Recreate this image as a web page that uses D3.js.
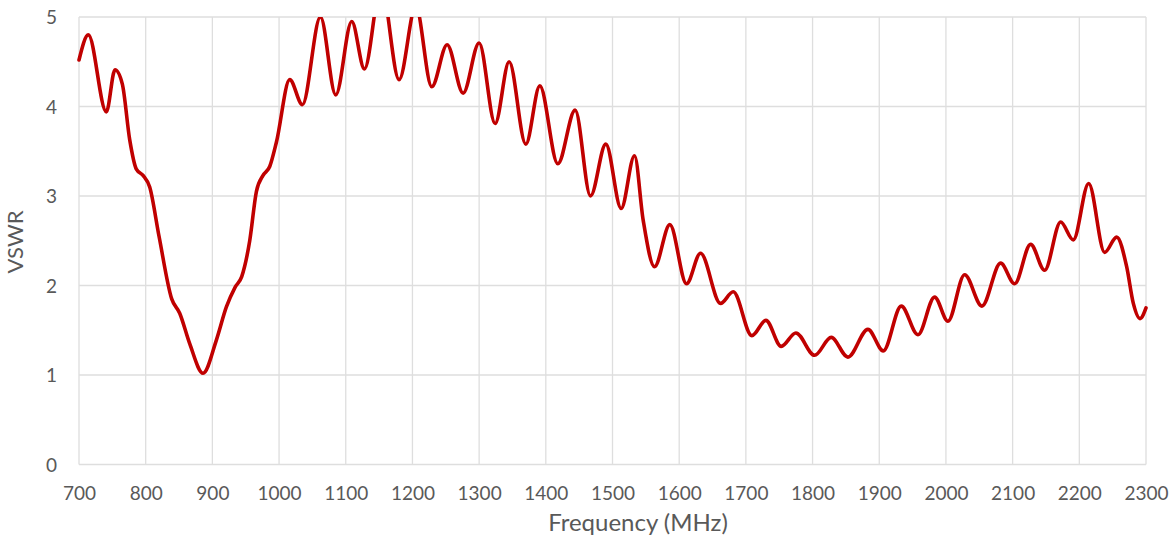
<!DOCTYPE html>
<html>
<head>
<meta charset="utf-8">
<script src="https://cdn.jsdelivr.net/npm/d3@7"></script>
<style>
html,body{margin:0;padding:0;background:#fff;}
svg{display:block;}
</style>
</head>
<body>
<svg id="chart" width="1174" height="540"></svg>
<script>
// Data
const freq = [700,714,741,754,765,776,786,796,806,820,839,851,866,886,906,921,934,944,956,966,976,986,996,1016,1035,1062,1085,1109,1128,1153,1180,1205,1229,1252,1276,1300,1324,1345,1370,1391,1418,1444,1467,1490,1513,1533,1546,1563,1586,1611,1632,1662,1681,1709,1730,1753,1775,1803,1828,1853,1883,1906,1933,1958,1983,2003,2028,2054,2082,2103,2127,2148,2172,2191,2214,2238,2256,2271,2281,2291,2300];
const vswr = [4.52,4.80,3.94,4.41,4.25,3.63,3.30,3.23,3.10,2.55,1.85,1.69,1.35,1.02,1.39,1.76,1.98,2.10,2.50,3.05,3.23,3.33,3.60,4.30,4.02,5.00,4.13,4.95,4.42,5.35,4.30,5.12,4.22,4.69,4.15,4.71,3.81,4.50,3.58,4.23,3.36,3.96,3.00,3.58,2.86,3.45,2.73,2.21,2.68,2.02,2.36,1.80,1.93,1.44,1.61,1.32,1.47,1.22,1.42,1.20,1.51,1.27,1.77,1.45,1.87,1.60,2.12,1.77,2.25,2.02,2.46,2.17,2.71,2.51,3.14,2.37,2.54,2.21,1.80,1.63,1.75];
const xTicks = [700,800,900,1000,1100,1200,1300,1400,1500,1600,1700,1800,1900,2000,2100,2200,2300];
const yTicks = [0,1,2,3,4,5];
const xTitle = "Frequency (MHz)";
const yTitle = "VSWR";

(function(){
const svg = d3.select("#chart");
const mL = 79, mR = 1146, mT = 17, mB = 464.5;
const x = d3.scaleLinear().domain([700,2300]).range([mL,mR]);
const y = d3.scaleLinear().domain([0,5]).range([mB,mT]);

const font = "Lato, 'Open Sans', sans-serif";
const grid = "#dedede";
const textCol = "#595959";

// gridlines
svg.append("g").selectAll("line").data(xTicks).join("line")
  .attr("x1", d=>x(d)).attr("x2", d=>x(d)).attr("y1", y(5)).attr("y2", y(0))
  .attr("stroke", grid).attr("stroke-width", 1.3);
svg.append("g").selectAll("line").data(yTicks).join("line")
  .attr("x1", x(700)).attr("x2", x(2300)).attr("y1", d=>y(d)).attr("y2", d=>y(d))
  .attr("stroke", grid).attr("stroke-width", 1.3);

// axes labels via d3 axes
const xAxis = d3.axisBottom(x).tickValues(xTicks).tickSize(0).tickPadding(0).tickFormat(d3.format("d"));
const gx = svg.append("g").attr("transform", `translate(0,${mB})`).call(xAxis);
gx.select(".domain").remove();
gx.selectAll("text").attr("y", 35).attr("dy", null).attr("fill", textCol)
  .style("font-family", font).style("font-size", "19px");

const yAxis = d3.axisLeft(y).tickValues(yTicks).tickSize(0).tickPadding(22).tickFormat(d3.format("d"));
const gy = svg.append("g").attr("transform", `translate(${mL},0)`).call(yAxis);
gy.select(".domain").remove();
gy.selectAll("text").attr("dy", "0.35em").attr("fill", textCol)
  .style("font-family", font).style("font-size", "19px");

// titles
svg.append("text").attr("x", 638).attr("y", 531).attr("text-anchor","middle")
  .attr("fill", textCol).style("font-family", font).style("font-size","24px").text(xTitle);
svg.append("text").attr("transform","translate(23,242) rotate(-90)").attr("text-anchor","middle")
  .attr("fill", textCol).style("font-family", font).style("font-size","22px").text(yTitle);

// clip
svg.append("defs").append("clipPath").attr("id","plotclip")
  .append("rect").attr("x", mL-5).attr("y", mT).attr("width", mR-mL+10).attr("height", mB-mT+5);

const pts = freq.map((f,i)=>[f, vswr[i]]);
const line = d3.line().x(d=>x(d[0])).y(d=>y(d[1])).curve(d3.curveMonotoneX);
svg.append("path").datum(pts).attr("d", line)
  .attr("clip-path","url(#plotclip)")
  .attr("fill","none").attr("stroke","#c00000").attr("stroke-width",3.6)
  .attr("stroke-linejoin","round").attr("stroke-linecap","round");
})();
</script>
</body>
</html>
